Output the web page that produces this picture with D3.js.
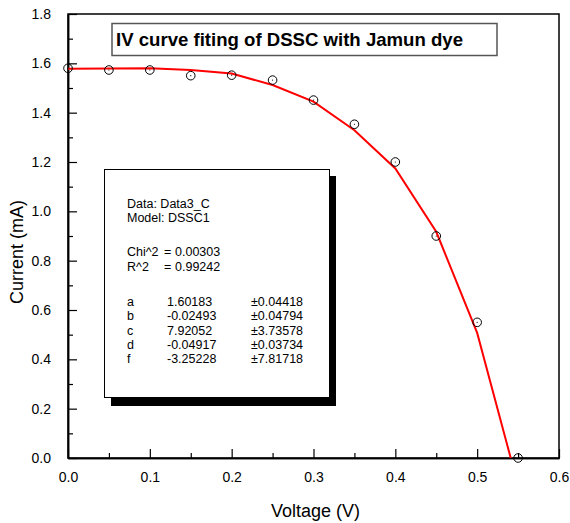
<!DOCTYPE html>
<html>
<head>
<meta charset="utf-8">
<script src="https://cdn.jsdelivr.net/npm/d3@7"></script>
<style>
  body { margin: 0; background: #fff; }
  text { font-family: "Liberation Sans", Arial, sans-serif; }
</style>
</head>
<body>
<svg width="570" height="523"></svg>
<script>
// measured points
const voltage = [0, 0.05, 0.1, 0.15, 0.2, 0.25, 0.3, 0.35, 0.4, 0.45, 0.5, 0.55];
const current = [1.58, 1.573, 1.573, 1.55, 1.552, 1.532, 1.451, 1.353, 1.20, 0.90, 0.55, 0.0];

// fitted curve (red)
const fitVoltage = [0, 0.05, 0.1, 0.15, 0.2, 0.25, 0.3, 0.35, 0.4, 0.45, 0.5, 0.541];
const fitCurrent = [1.578, 1.579, 1.58, 1.573, 1.559, 1.512, 1.445, 1.329, 1.174, 0.917, 0.507, 0.0];

const xTicks = [0, 0.1, 0.2, 0.3, 0.4, 0.5, 0.6];
const xMinor = [0.05, 0.15, 0.25, 0.35, 0.45, 0.55];
const yTicks = [0, 0.2, 0.4, 0.6, 0.8, 1.0, 1.2, 1.4, 1.6, 1.8];
const yMinor = [0.1, 0.3, 0.5, 0.7, 0.9, 1.1, 1.3, 1.5, 1.7];

const title = 'IV curve fiting of DSSC with Jamun dye';
const infoHead = ['Data: Data3_C', 'Model: DSSC1'];
const statNames = ['Chi^2', 'R^2'];
const statValues = ['0.00303', '0.99242'];
const paramNames = ['a', 'b', 'c', 'd', 'f'];
const paramValues = ['1.60183', '-0.02493', '7.92052', '-0.04917', '-3.25228'];
const paramErrors = ['±0.04418', '±0.04794', '±3.73578', '±0.03734', '±7.81718'];

const svg = d3.select('svg');
const plotLeft = 68, plotTop = 14, plotRight = 559, plotBottom = 458;

const x = d3.scaleLinear().domain([0, 0.6]).range([plotLeft, plotRight]);
const y = d3.scaleLinear().domain([0, 1.8]).range([plotBottom, plotTop]);

// frame
svg.append('rect')
  .attr('x', plotLeft).attr('y', plotTop)
  .attr('width', plotRight - plotLeft).attr('height', plotBottom - plotTop)
  .attr('fill', 'none').attr('stroke', '#000').attr('stroke-width', 1.5);

// x axis
svg.append('g')
  .attr('transform', `translate(0,${plotBottom})`)
  .call(d3.axisBottom(x).tickValues(xTicks).tickFormat(d3.format('.1f'))
    .tickSizeInner(-9).tickSizeOuter(0).tickPadding(14));
svg.append('g')
  .attr('transform', `translate(0,${plotBottom})`)
  .call(d3.axisBottom(x).tickValues(xMinor).tickFormat('')
    .tickSizeInner(-5).tickSizeOuter(0));

// y axis
svg.append('g')
  .attr('transform', `translate(${plotLeft},0)`)
  .call(d3.axisLeft(y).tickValues(yTicks).tickFormat(d3.format('.1f'))
    .tickSizeInner(-9).tickSizeOuter(0).tickPadding(17));
svg.append('g')
  .attr('transform', `translate(${plotLeft},0)`)
  .call(d3.axisLeft(y).tickValues(yMinor).tickFormat('')
    .tickSizeInner(-5).tickSizeOuter(0));

svg.selectAll('.domain').attr('stroke', '#000').attr('stroke-width', 1.5);
svg.selectAll('.tick line').attr('stroke', '#000').attr('stroke-width', 1.2);
svg.selectAll('.tick text')
  .attr('font-family', '"Liberation Sans", Arial, sans-serif')
  .attr('font-size', 14).attr('fill', '#000');

// axis titles
svg.append('text')
  .attr('x', (plotLeft + plotRight) / 2 + 2).attr('y', 517)
  .attr('text-anchor', 'middle').attr('font-size', 18)
  .text('Voltage (V)');
svg.append('text')
  .attr('transform', `translate(23,${(plotTop + plotBottom) / 2 + 16}) rotate(-90)`)
  .attr('text-anchor', 'middle').attr('font-size', 18)
  .text('Current (mA)');

// fit line
const line = d3.line().x((d, i) => x(fitVoltage[i])).y(d => y(d));
svg.append('path')
  .datum(fitCurrent)
  .attr('d', line)
  .attr('fill', 'none').attr('stroke', '#ff0000').attr('stroke-width', 2);

// data markers
const pts = svg.append('g').selectAll('g')
  .data(current)
  .join('g')
  .attr('transform', (d, i) => `translate(${x(voltage[i])},${y(d)})`);
pts.append('circle').attr('r', 4.3)
  .attr('fill', 'none').attr('stroke', '#000').attr('stroke-width', 1);
pts.append('circle').attr('r', 0.6).attr('fill', '#000');

// title box
svg.append('rect')
  .attr('x', 112).attr('y', 23.5).attr('width', 385).attr('height', 32)
  .attr('fill', '#fff').attr('stroke', '#555').attr('stroke-width', 1.5);
svg.append('text')
  .attr('x', 116).attr('y', 46)
  .attr('font-size', 19).attr('font-weight', 'bold')
  .attr('textLength', 347).attr('lengthAdjust', 'spacingAndGlyphs')
  .text(title);

// info box with shadow
svg.append('rect')
  .attr('x', 111).attr('y', 176).attr('width', 225).attr('height', 230)
  .attr('fill', '#000');
svg.append('rect')
  .attr('x', 104.5).attr('y', 169.5).attr('width', 225).attr('height', 228)
  .attr('fill', '#fff').attr('stroke', '#000').attr('stroke-width', 1);

const info = svg.append('g').attr('font-size', 12.5).attr('fill', '#000');
infoHead.forEach((t, i) => {
  info.append('text').attr('x', 127).attr('y', 207.5 + i * 14).text(t);
});
statNames.forEach((n, i) => {
  const yy = 256 + i * 15;
  info.append('text').attr('x', 127).attr('y', yy).text(n);
  info.append('text').attr('x', 164).attr('y', yy).text('=');
  info.append('text').attr('x', 175).attr('y', yy).text(statValues[i]);
});
paramNames.forEach((n, i) => {
  const yy = 306 + i * 14.3;
  info.append('text').attr('x', 127).attr('y', yy).text(n);
  info.append('text').attr('x', 167).attr('y', yy).text(paramValues[i]);
  info.append('text').attr('x', 251).attr('y', yy).text(paramErrors[i]);
});
</script>
</body>
</html>
